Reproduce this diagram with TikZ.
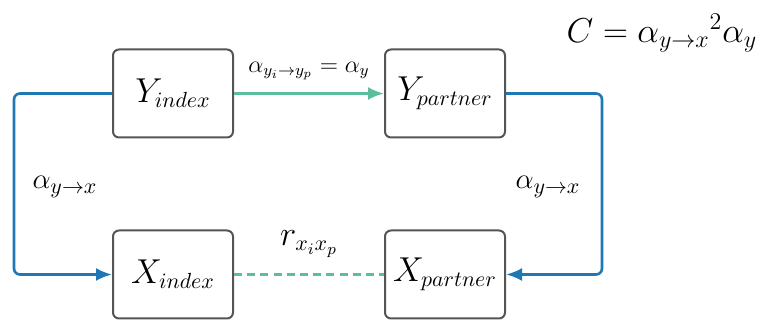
\documentclass[tikz,border=0pt]{standalone}
\usepackage{amsmath}
\usepackage{tikz}
\usetikzlibrary{arrows.meta,positioning}
\definecolor{edgeblue}{HTML}{1F78B4}
\definecolor{edgeteal}{HTML}{5BBF9F}
\definecolor{boxgray}{HTML}{555555}

\begin{document}
\begin{tikzpicture}[
  x=0.5pt, y=0.5pt,
  box/.style={draw=boxgray, line width=1pt, rounded corners=3pt, fill=white,
              minimum width=60pt, minimum height=44pt, inner sep=0pt,
              font=\fontsize{16}{18}\selectfont},
  lbl/.style={font=\fontsize{15}{18}\selectfont, inner sep=1pt, text=black},
  blue arr/.style={-{Latex[length=8pt,width=6.5pt]}, draw=edgeblue,
                   line width=1.3pt, rounded corners=3pt},
  teal arr/.style={-{Latex[length=8pt,width=6.5pt]}, draw=edgeteal,
                   line width=1.3pt}
]
\useasboundingbox (0,0) rectangle (761,320);
\node[box] (yidx) at (173,226.5) {$Y_{index}$};
\node[box, right=75pt of yidx] (yptn) {$Y_{partner}$};
\node[box, below=45.5pt of yidx] (xidx) {$X_{index}$};
\node[box, right=75pt of xidx] (xptn) {$X_{partner}$};
% causal links
\draw[teal arr] (yidx) -- node[above=5pt, lbl, font=\fontsize{11.5}{14}\selectfont]
  {$\alpha_{y_i\to y_p}=\alpha_y$} (yptn);
\draw[edgeteal, line width=1.3pt, dash pattern=on 4pt off 2.6pt] (xidx) --
  node[above=7pt, lbl, font=\fontsize{16}{18}\selectfont] {$r_{x_i x_p}$} (xptn);
\draw[blue arr] (yidx.west) -- ++(-49pt,0) |- (xidx.west);
\draw[blue arr] (yptn.east) -- ++(48pt,0) |- (xptn.east);
\node[lbl] (aleft) at (65,133) {$\alpha_{y\to x}$};
\node[lbl] (aright) at (548,133) {$\alpha_{y\to x}$};
\node[lbl, font=\fontsize{16.5}{20}\selectfont] (cform) at (662,287)
  {$C={\alpha_{y\to x}}^{2}\alpha_y$};
\end{tikzpicture}
\end{document}
